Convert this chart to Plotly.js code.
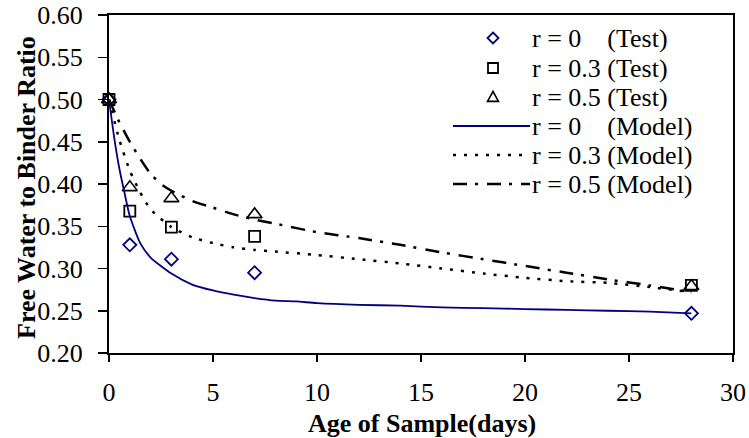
<!DOCTYPE html>
<html>
<head>
<meta charset="utf-8">
<script src="https://cdn.plot.ly/plotly-3.0.1.min.js"></script>
<style>html,body{margin:0;padding:0;background:#fff;}#chart{width:749px;height:438px;}</style>
</head>
<body>
<div id="chart"></div>
<script>
// Test data (days, free water to binder ratio)
const testDays = [0, 1, 3, 7, 28];
const r0Test  = [0.500, 0.328, 0.311, 0.295, 0.247];
const r03Test = [0.500, 0.368, 0.349, 0.338, 0.280];
const r05Test = [0.500, 0.396, 0.383, 0.364, 0.279];

// Model curves
const r0ModelDays = [0, 0.25, 0.5, 0.75, 1, 1.5, 2, 3, 4, 5, 6, 7, 8, 9, 10, 12, 14, 16, 18, 20, 22, 24, 26, 28];
const r0Model     = [0.500, 0.455, 0.418, 0.389, 0.362, 0.330, 0.313, 0.294, 0.281, 0.274, 0.269, 0.265, 0.262, 0.261, 0.259, 0.257, 0.256, 0.254, 0.253, 0.252, 0.251, 0.250, 0.249, 0.247];

const r03ModelDays = [0, 0.5, 1, 1.5, 2, 3, 4, 5, 6, 7, 8, 10, 12, 14, 16, 18, 20, 22, 24, 26, 28];
const r03Model     = [0.500, 0.452, 0.416, 0.390, 0.370, 0.349, 0.337, 0.330, 0.325, 0.322, 0.320, 0.316, 0.311, 0.306, 0.300, 0.294, 0.289, 0.285, 0.283, 0.278, 0.272];

const r05ModelDays = [0, 0.5, 1, 1.5, 2, 2.5, 3, 4, 5, 6, 7, 8, 10, 12, 14, 16, 18, 20, 22, 24, 26, 28];
const r05Model     = [0.500, 0.473, 0.450, 0.430, 0.412, 0.400, 0.392, 0.380, 0.372, 0.364, 0.358, 0.353, 0.343, 0.336, 0.328, 0.319, 0.311, 0.303, 0.295, 0.287, 0.280, 0.272];

const seriesNames = [
  'r = 0\u00a0\u00a0\u00a0\u00a0(Test)',
  'r = 0.3 (Test)',
  'r = 0.5 (Test)',
  'r = 0\u00a0\u00a0\u00a0\u00a0(Model)',
  'r = 0.3 (Model)',
  'r = 0.5 (Model)'
];
const xTitle = 'Age of Sample(days)';
const yTitle = 'Free Water to Binder Ratio';

const serif = 'Liberation Serif, Times New Roman, serif';
const NAVY = '#000080';

// plot area in pixels (for placing legend decorations)
const W = 749, H = 438, ML = 109, MR = 16, MT = 15, MB = 85;
const PW = W - ML - MR, PH = H - MT - MB;
const px = v => (v - ML) / PW;
const py = v => (H - MB - v) / PH;

const styles = [
  {kind: 'marker', symbol: 'diamond-open', size: 10, color: NAVY, lw: 1.8},
  {kind: 'marker', symbol: 'square-open', size: 11, color: '#000', lw: 1.8},
  {kind: 'marker', symbol: 'triangle-up-open', size: 13, color: '#000', lw: 1.6},
  {kind: 'line', color: NAVY, width: 1.8, dash: 'solid'},
  {kind: 'line', color: '#000', width: 2.5, dash: '3px,8px'},
  {kind: 'line', color: '#000', width: 2.5, dash: '14px,8px,3px,9px'}
];
const seriesX = [testDays, testDays, testDays, r0ModelDays, r03ModelDays, r05ModelDays];
const seriesY = [r0Test, r03Test, r05Test, r0Model, r03Model, r05Model];

const traces = seriesX.map((xs, i) => {
  const s = styles[i];
  if (s.kind === 'marker') {
    return {x: xs, y: seriesY[i], name: seriesNames[i], mode: 'markers', cliponaxis: false,
      marker: {symbol: s.symbol, size: s.size, color: s.color, line: {width: s.lw, color: s.color}}};
  }
  return {x: xs, y: seriesY[i], name: seriesNames[i], mode: 'lines',
    line: {color: s.color, width: s.width, dash: s.dash, shape: 'spline', smoothing: 0.6}};
});

// Custom legend (keys + labels), laid out in pixel space
const legRowY = [38, 68, 97, 126, 155, 184];
const legTextX = 530, legMarkX = 493, legLineX0 = 453, legLineX1 = 530;
const shapes = [];
const annotations = [];
function markerPath(sym, cx, cy, r) {
  const p = (x, y) => px(x) + ',' + py(y);
  if (sym.startsWith('diamond')) return 'M' + p(cx, cy - r) + 'L' + p(cx + r, cy) + 'L' + p(cx, cy + r) + 'L' + p(cx - r, cy) + 'Z';
  if (sym.startsWith('square')) return 'M' + p(cx - r, cy - r) + 'L' + p(cx + r, cy - r) + 'L' + p(cx + r, cy + r) + 'L' + p(cx - r, cy + r) + 'Z';
  return 'M' + p(cx, cy - r) + 'L' + p(cx + r, cy + r * 0.8) + 'L' + p(cx - r, cy + r * 0.8) + 'Z';
}
styles.forEach((s, i) => {
  const yc = legRowY[i];
  if (s.kind === 'marker') {
    const r = s.symbol.startsWith('diamond') ? 5.5 : (s.symbol.startsWith('square') ? 5 : 5.5);
    shapes.push({type: 'path', xref: 'paper', yref: 'paper', path: markerPath(s.symbol, legMarkX, yc, r),
      line: {color: s.color, width: s.lw}, fillcolor: 'rgba(0,0,0,0)'});
  } else {
    shapes.push({type: 'line', xref: 'paper', yref: 'paper', x0: px(legLineX0), x1: px(legLineX1), y0: py(yc), y1: py(yc),
      line: {color: s.color, width: s.width, dash: s.dash}});
  }
  annotations.push({xref: 'paper', yref: 'paper', x: px(legTextX), y: py(yc), xanchor: 'left', yanchor: 'middle',
    text: seriesNames[i], showarrow: false, font: {family: serif, size: 26, color: '#000'}});
});

// Axis titles
annotations.push({xref: 'paper', yref: 'paper', x: px(422), y: py(423), xanchor: 'center', yanchor: 'middle',
  text: '<b>' + xTitle + '</b>', showarrow: false, font: {family: serif, size: 26, color: '#000'}});
annotations.push({xref: 'paper', yref: 'paper', x: px(26), y: py(188), xanchor: 'center', yanchor: 'middle',
  text: '<b>' + yTitle + '</b>', textangle: -90, showarrow: false, font: {family: serif, size: 26, color: '#000'}});

const layout = {
  width: W, height: H,
  margin: {l: ML, r: MR, t: MT, b: MB},
  paper_bgcolor: '#ffffff', plot_bgcolor: '#ffffff',
  font: {family: serif, color: '#000000', size: 23},
  showlegend: false,
  shapes: shapes,
  annotations: annotations,
  xaxis: {
    range: [0, 30], dtick: 5, tick0: 0,
    showline: true, linecolor: '#000', linewidth: 2, mirror: true,
    ticks: 'outside', ticklen: 7, tickwidth: 1.5, tickcolor: '#000',
    ticklabelstandoff: 8,
    showgrid: false, zeroline: false,
    tickfont: {family: serif, size: 26, color: '#000'}
  },
  yaxis: {
    range: [0.2, 0.6], dtick: 0.05, tick0: 0.2, tickformat: '.2f',
    showline: true, linecolor: '#000', linewidth: 2, mirror: true,
    ticks: 'outside', ticklen: 9, tickwidth: 1.5, tickcolor: '#000',
    ticklabelstandoff: 10,
    showgrid: false, zeroline: false,
    tickfont: {family: serif, size: 26, color: '#000'}
  }
};

Plotly.newPlot('chart', traces, layout, {staticPlot: true, displayModeBar: false});
</script>
</body>
</html>
